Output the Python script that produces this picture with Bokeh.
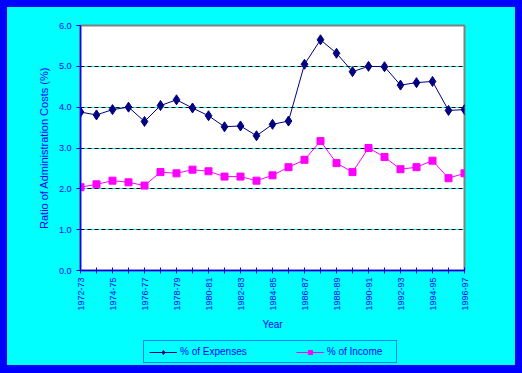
from bokeh.plotting import figure
from bokeh.layouts import column
from bokeh.models import (Range1d, FixedTicker, Grid, Legend, LegendItem,
                          PrintfTickFormatter, GlobalInlineStyleSheet, ColumnDataSource)
from bokeh.embed import file_html
from bokeh.resources import INLINE
import math

years = ["1972-73", "1973-74", "1974-75", "1975-76", "1976-77", "1977-78", "1978-79",
         "1979-80", "1980-81", "1981-82", "1982-83", "1983-84", "1984-85", "1985-86",
         "1986-87", "1987-88", "1988-89", "1989-90", "1990-91", "1991-92", "1992-93",
         "1993-94", "1994-95", "1995-96", "1996-97"]
pct_expenses = [3.88, 3.81, 3.94, 4.00, 3.65, 4.04, 4.18, 3.98, 3.79, 3.52, 3.54, 3.30,
                3.58, 3.66, 5.05, 5.65, 5.32, 4.87, 5.00, 4.99, 4.54, 4.60, 4.63, 3.92, 3.94]
pct_income = [2.04, 2.11, 2.20, 2.16, 2.08, 2.41, 2.38, 2.47, 2.43, 2.30, 2.30, 2.20,
              2.33, 2.53, 2.71, 3.17, 2.63, 2.41, 3.00, 2.78, 2.48, 2.53, 2.69, 2.26, 2.38]
series_names = ["% of Expenses", "% of Income"]
y_ticks = [0, 1, 2, 3, 4, 5, 6]

BLUE = "#0000FF"
CYAN = "#00FFFF"
NAVY = "#000080"
MAGENTA = "#FF00FF"
FONT = "Liberation Sans"

idx = list(range(len(years)))
src = ColumnDataSource(dict(x=idx, exp=pct_expenses, inc=pct_income))

p = figure(width=508, height=333, output_backend="svg", toolbar_location=None,
           x_range=Range1d(0, len(years) - 1), y_range=Range1d(y_ticks[0], y_ticks[-1]),
           min_border_left=73, min_border_right=51, min_border_top=18, min_border_bottom=70,
           background_fill_color="white", border_fill_color=CYAN,
           outline_line_color="#808080", outline_line_width=2,
           stylesheets=[GlobalInlineStyleSheet(
               css="html,body{background:#0000FF !important;margin:0;padding:0;} body{padding:7px !important;}")])

# grids: cyan solid under black dashes
p.xgrid.visible = False
p.ygrid.ticker = FixedTicker(ticks=y_ticks[1:-1])
p.ygrid.grid_line_color = CYAN
p.ygrid.grid_line_width = 1
g2 = Grid(dimension=1, ticker=FixedTicker(ticks=y_ticks[1:-1]),
          grid_line_color="black", grid_line_dash="4 3", grid_line_width=1)
p.center.append(g2)

# x axis
xa = p.xaxis[0]
xa.ticker = FixedTicker(ticks=[i for i in idx if i % 2 == 0],
                        minor_ticks=[i for i in idx if i % 2 == 1])
xa.major_label_overrides = {i: years[i] for i in idx if i % 2 == 0}
xa.major_label_orientation = math.pi / 2
xa.axis_label = "Year"
for ax in (p.xaxis[0], p.yaxis[0]):
    ax.axis_line_color = BLUE
    ax.axis_line_width = 1.5
    ax.major_tick_line_color = BLUE
    ax.minor_tick_line_color = BLUE
    ax.major_label_text_color = BLUE
    ax.major_label_text_font = FONT
    ax.major_label_text_font_size = "9px"
    ax.axis_label_text_color = BLUE
    ax.axis_label_text_font = FONT
    ax.axis_label_text_font_size = "10px"
    ax.axis_label_text_font_style = "normal"
xa.major_tick_in = 3
xa.major_tick_out = 3
xa.minor_tick_in = 3
xa.minor_tick_out = 3
xa.major_label_standoff = 4
xa.axis_label_standoff = 5

ya = p.yaxis[0]
ya.ticker = FixedTicker(ticks=y_ticks, minor_ticks=[])
ya.formatter = PrintfTickFormatter(format="%.1f")
ya.major_tick_in = 0
ya.major_tick_out = 4
ya.major_label_standoff = 5
ya.axis_label = "Ratio of Administration Costs (%)"
ya.axis_label_text_font_size = "11px"
ya.axis_label_standoff = 6

p.line("x", "exp", source=src, line_color=NAVY, line_width=1)
p.scatter("x", "exp", source=src, marker="diamond", size=10,
          fill_color=NAVY, line_color=NAVY)
p.line("x", "inc", source=src, line_color=MAGENTA, line_width=1)
p.scatter("x", "inc", source=src, marker="square", size=7,
          fill_color=MAGENTA, line_color=MAGENTA)

# legend strip (separate figure so the legend is not clipped by the plot frame);
# its ranges are set away from the data so only the legend keys show
p2 = figure(width=508, height=25, output_backend="svg", toolbar_location=None,
            x_axis_type=None, y_axis_type=None,
            x_range=Range1d(-20, -10), y_range=Range1d(-20, -10),
            min_border=0, min_border_left=0, min_border_right=0,
            min_border_top=0, min_border_bottom=0,
            background_fill_color=CYAN, border_fill_color=CYAN, outline_line_color=None)
p2.xgrid.visible = False
p2.ygrid.visible = False
k1l = p2.line("x", "exp", source=src, line_color=NAVY, line_width=1)
k1s = p2.scatter("x", "exp", source=src, marker="diamond", size=10,
                 fill_color=NAVY, line_color=NAVY)
k2l = p2.line("x", "inc", source=src, line_color=MAGENTA, line_width=1)
k2s = p2.scatter("x", "inc", source=src, marker="square", size=7,
                 fill_color=MAGENTA, line_color=MAGENTA)

legend = Legend(items=[LegendItem(label=series_names[0], renderers=[k1l, k1s]),
                       LegendItem(label=series_names[1], renderers=[k2l, k2s])],
                orientation="horizontal", location=(63, 2),
                background_fill_color=CYAN, background_fill_alpha=1,
                border_line_color=BLUE, border_line_width=1,
                label_text_color=BLUE, label_text_font=FONT, label_text_font_size="10px",
                glyph_width=28, glyph_height=10, label_standoff=3, label_width=64,
                spacing=49, padding=5, margin=0, label_height=10)
p2.add_layout(legend, "center")

layout = column(p, p2, spacing=0, styles={"background-color": CYAN})
open("out.html", "w").write(file_html(layout, INLINE))
